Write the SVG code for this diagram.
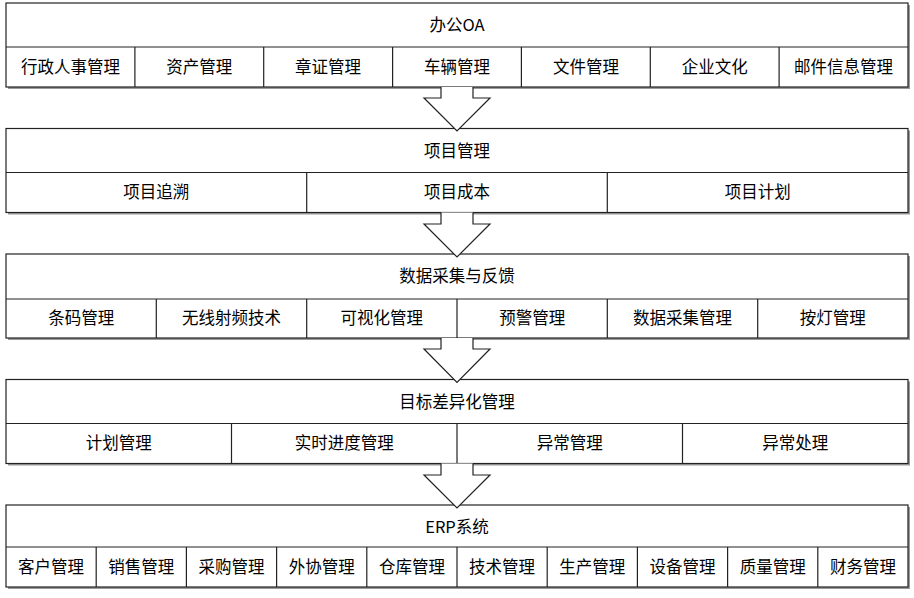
<svg xmlns="http://www.w3.org/2000/svg" width="914" height="598" viewBox="0 0 914 598">
<defs>
<style>
.box{fill:#fff;stroke:#222;stroke-width:1.2}
.sh{fill:#9a9a9a}
.ln{stroke:#222;stroke-width:1.2;fill:none}
.t{font-family:"Noto Sans CJK SC","Microsoft YaHei",sans-serif;font-size:16.5px;fill:#000;text-anchor:middle;dominant-baseline:central}
.ar{fill:#fff;stroke:#222;stroke-width:1.2;stroke-linejoin:miter}
</style>
</defs>
<rect width="914" height="598" fill="#fff"/>

<g id="oa">
<rect class="sh" x="8" y="5" width="902" height="84"/>
<rect class="box" x="6" y="3" width="902" height="84"/>
<line class="ln" x1="6" y1="47" x2="908" y2="47"/>
<line class="ln" x1="134.9" y1="47" x2="134.9" y2="87"/>
<line class="ln" x1="263.7" y1="47" x2="263.7" y2="87"/>
<line class="ln" x1="392.6" y1="47" x2="392.6" y2="87"/>
<line class="ln" x1="521.4" y1="47" x2="521.4" y2="87"/>
<line class="ln" x1="650.3" y1="47" x2="650.3" y2="87"/>
<line class="ln" x1="779.1" y1="47" x2="779.1" y2="87"/>
<text class="t" x="457" y="23.5">办公OA</text>
<text class="t" x="70.4" y="65.5">行政人事管理</text>
<text class="t" x="199.3" y="65.5">资产管理</text>
<text class="t" x="328.1" y="65.5">章证管理</text>
<text class="t" x="457" y="65.5">车辆管理</text>
<text class="t" x="585.9" y="65.5">文件管理</text>
<text class="t" x="714.7" y="65.5">企业文化</text>
<text class="t" x="843.6" y="65.5">邮件信息管理</text>
</g>

<g id="project">
<rect class="sh" x="8" y="130.5" width="902" height="84"/>
<rect class="box" x="6" y="128.5" width="902" height="84"/>
<line class="ln" x1="6" y1="172.5" x2="908" y2="172.5"/>
<line class="ln" x1="306.7" y1="172.5" x2="306.7" y2="212.5"/>
<line class="ln" x1="607.3" y1="172.5" x2="607.3" y2="212.5"/>
<text class="t" x="457" y="149.5">项目管理</text>
<text class="t" x="156.3" y="191">项目追溯</text>
<text class="t" x="457" y="191">项目成本</text>
<text class="t" x="757.7" y="191">项目计划</text>
</g>

<g id="data">
<rect class="sh" x="8" y="256" width="902" height="84"/>
<rect class="box" x="6" y="254" width="902" height="84"/>
<line class="ln" x1="6" y1="299" x2="908" y2="299"/>
<line class="ln" x1="156.3" y1="299" x2="156.3" y2="338"/>
<line class="ln" x1="306.7" y1="299" x2="306.7" y2="338"/>
<line class="ln" x1="457" y1="299" x2="457" y2="338"/>
<line class="ln" x1="607.3" y1="299" x2="607.3" y2="338"/>
<line class="ln" x1="757.7" y1="299" x2="757.7" y2="338"/>
<text class="t" x="457" y="274.5">数据采集与反馈</text>
<text class="t" x="81.2" y="316.5">条码管理</text>
<text class="t" x="231.5" y="316.5">无线射频技术</text>
<text class="t" x="381.8" y="316.5">可视化管理</text>
<text class="t" x="532.2" y="316.5">预警管理</text>
<text class="t" x="682.5" y="316.5">数据采集管理</text>
<text class="t" x="832.8" y="316.5">按灯管理</text>
</g>

<g id="target">
<rect class="sh" x="8" y="381.5" width="902" height="84"/>
<rect class="box" x="6" y="379.5" width="902" height="84"/>
<line class="ln" x1="6" y1="423.5" x2="908" y2="423.5"/>
<line class="ln" x1="231.5" y1="423.5" x2="231.5" y2="463.5"/>
<line class="ln" x1="457" y1="423.5" x2="457" y2="463.5"/>
<line class="ln" x1="682.5" y1="423.5" x2="682.5" y2="463.5"/>
<text class="t" x="457" y="400.5">目标差异化管理</text>
<text class="t" x="118.8" y="442">计划管理</text>
<text class="t" x="344.3" y="442">实时进度管理</text>
<text class="t" x="569.8" y="442">异常管理</text>
<text class="t" x="795.3" y="442">异常处理</text>
</g>

<g id="erp">
<rect class="sh" x="8" y="507" width="902" height="82"/>
<rect class="box" x="6" y="505" width="902" height="82"/>
<line class="ln" x1="6" y1="547" x2="908" y2="547"/>
<line class="ln" x1="96.2" y1="547" x2="96.2" y2="587"/>
<line class="ln" x1="186.4" y1="547" x2="186.4" y2="587"/>
<line class="ln" x1="276.6" y1="547" x2="276.6" y2="587"/>
<line class="ln" x1="366.8" y1="547" x2="366.8" y2="587"/>
<line class="ln" x1="457" y1="547" x2="457" y2="587"/>
<line class="ln" x1="547.2" y1="547" x2="547.2" y2="587"/>
<line class="ln" x1="637.4" y1="547" x2="637.4" y2="587"/>
<line class="ln" x1="727.6" y1="547" x2="727.6" y2="587"/>
<line class="ln" x1="817.8" y1="547" x2="817.8" y2="587"/>
<text class="t" x="457" y="525.5">ERP系统</text>
<text class="t" x="51.1" y="565.5">客户管理</text>
<text class="t" x="141.3" y="565.5">销售管理</text>
<text class="t" x="231.5" y="565.5">采购管理</text>
<text class="t" x="321.7" y="565.5">外协管理</text>
<text class="t" x="411.9" y="565.5">仓库管理</text>
<text class="t" x="502.1" y="565.5">技术管理</text>
<text class="t" x="592.3" y="565.5">生产管理</text>
<text class="t" x="682.5" y="565.5">设备管理</text>
<text class="t" x="772.7" y="565.5">质量管理</text>
<text class="t" x="862.9" y="565.5">财务管理</text>
</g>

<g id="connectors">
<path class="ar" d="M441,87 V98 H424 L457,131 L490,98 H473 V87"/>
<path class="ar" d="M441,212.5 V224 H424 L457,257 L490,224 H473 V212.5"/>
<path class="ar" d="M441,338 V349 H424 L457,382.5 L490,349 H473 V338"/>
<path class="ar" d="M441,463.5 V475 H424 L457,508 L490,475 H473 V463.5"/>
</g>
</svg>
